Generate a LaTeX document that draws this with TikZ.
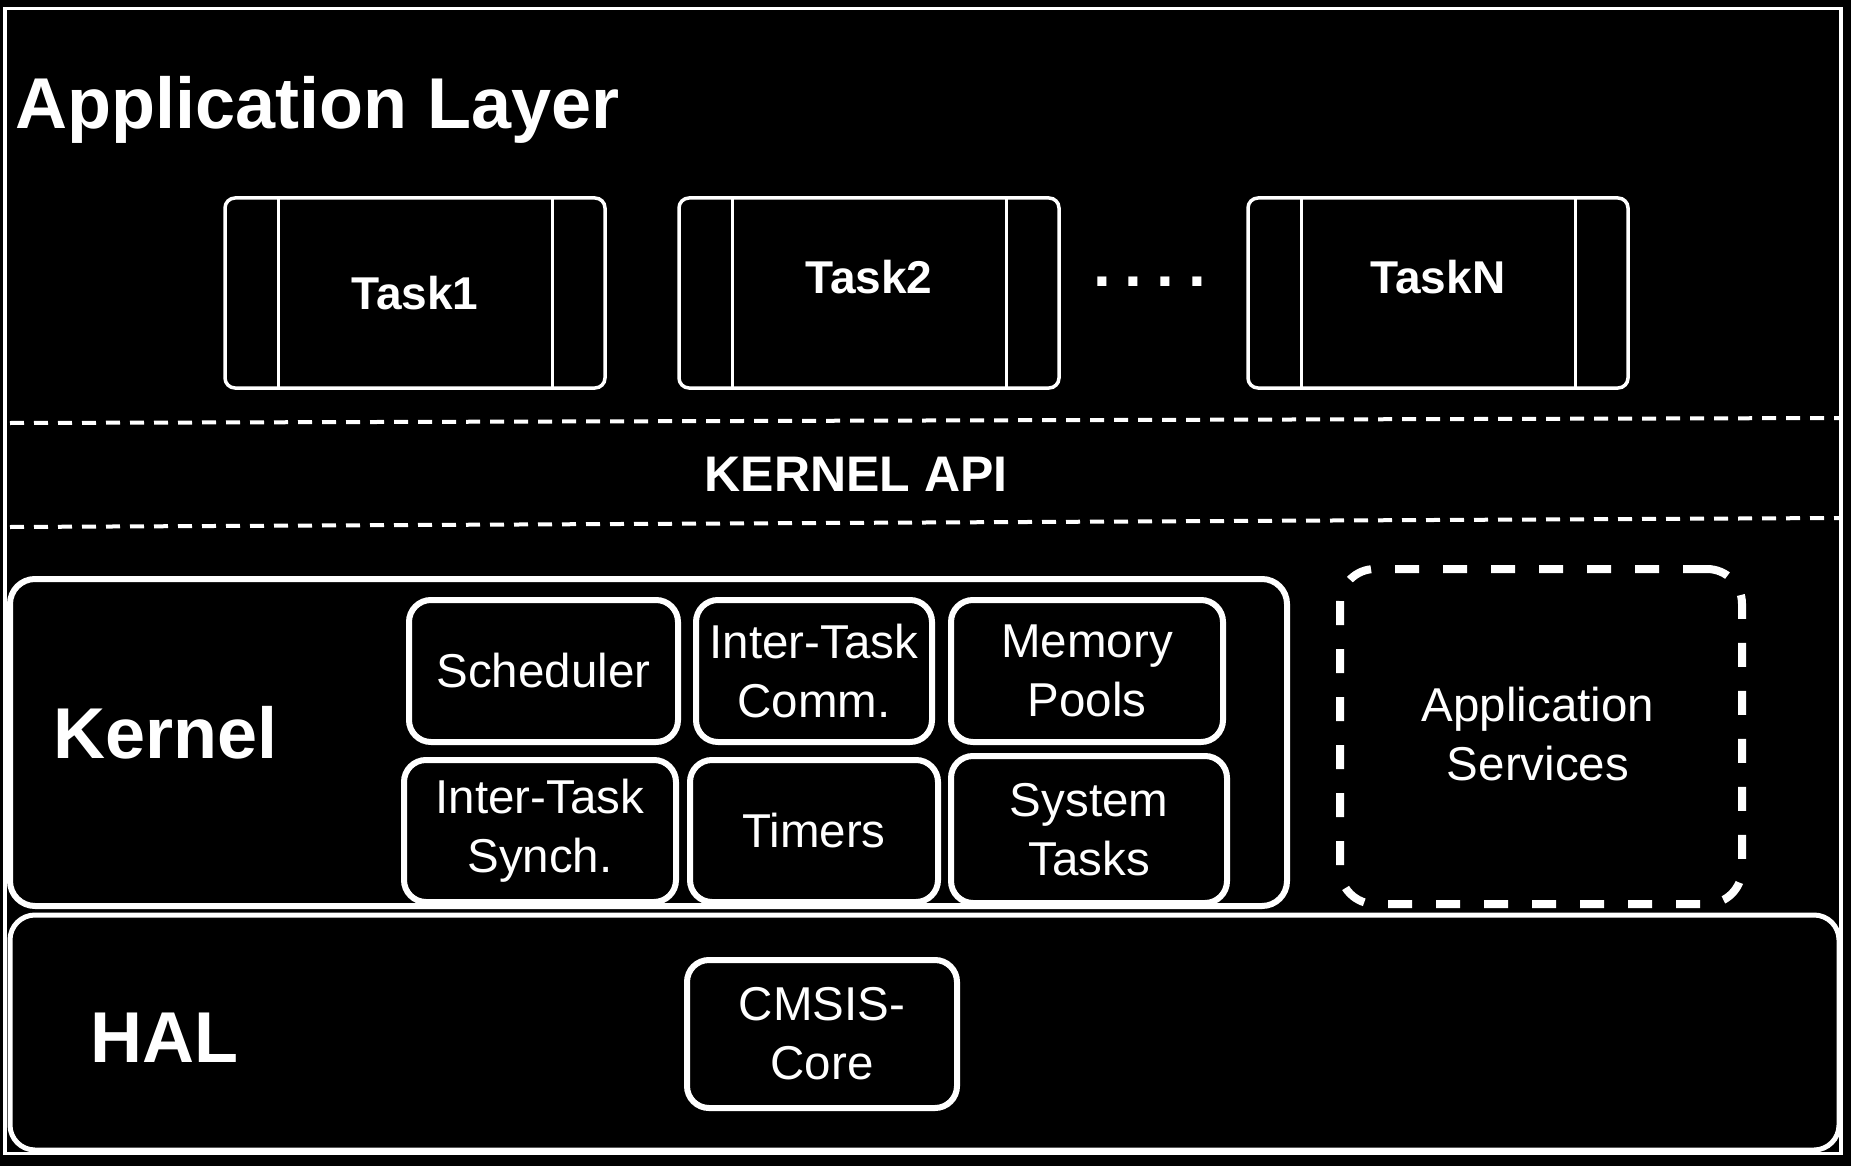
\documentclass[tikz,border=0pt]{standalone}
\usepackage{fontspec}
\setmainfont{Liberation Sans}

\begin{document}
\begin{tikzpicture}[x=1pt,y=-1pt,
	layer/.style={font=\fontsize{72}{86}\selectfont\bfseries, text=white, inner sep=0pt},
	layerbox/.style={draw=white, line width=6pt, rounded corners=25pt, inner sep=0pt, outer sep=0pt},
	taskbox/.style={draw=white, line width=3.5pt, rounded corners=10pt, minimum width=380pt, minimum height=190pt, inner sep=0pt, outer sep=0pt, text=white, font=\fontsize{46}{55}\selectfont\bfseries},
	kbox/.style={draw=white, line width=6pt, rounded corners=22pt, inner sep=0pt, outer sep=0pt, text=white, align=center, font=\fontsize{47.5}{59}\selectfont},
	sepline/.style={draw=white, line width=4pt, dash pattern=on 14pt off 10pt}]
	
	\useasboundingbox (0,0) rectangle (1851,1166);
	\fill[black] (0,0) rectangle (1851,1166);
	\draw[white, line width=3.5pt] (5,8.5) rectangle (1841,1153.5);
	
	% Application layer
	\draw (15,129) node[layer, anchor=base west] (applayer) {Application Layer};
	
	% Tasks
	\draw (415,293) node[taskbox] (task1) {Task1};
	\draw (869,293) node[taskbox, text depth=32pt] (task2) {Task2};
	\draw (1438,293) node[taskbox, text depth=32pt] (taskn) {TaskN};
	
	\draw[white, line width=3pt] ([xshift=53pt]task1.north west) -- ([xshift=53pt]task1.south west);
	\draw[white, line width=3pt] ([xshift=-53pt]task1.north east) -- ([xshift=-53pt]task1.south east);
	\draw[white, line width=3pt] ([xshift=53pt]task2.north west) -- ([xshift=53pt]task2.south west);
	\draw[white, line width=3pt] ([xshift=-53pt]task2.north east) -- ([xshift=-53pt]task2.south east);
	\draw[white, line width=3pt] ([xshift=53pt]taskn.north west) -- ([xshift=53pt]taskn.south west);
	\draw[white, line width=3pt] ([xshift=-53pt]taskn.north east) -- ([xshift=-53pt]taskn.south east);
	
	\draw (1093,286) node[anchor=base west, inner sep=0pt, text=white, font=\fontsize{64}{64}\selectfont\bfseries] (dots)
	{.\hspace{14pt}.\hspace{14pt}.\hspace{14pt}.};
	
	% Kernel API
	\draw[sepline] (10,423) -- (1840,418);
	\draw[sepline] (10,527) -- (1840,518);
	
	\draw (856,474) node[text=white, font=\fontsize{50}{60}\selectfont\bfseries] (api) {KERNEL API};
	
	% Kernel
	\draw (648.5,742.5) node[layerbox, minimum width=1277pt, minimum height=327pt] (kernel) {};
	\draw (53,758) node[layer, anchor=base west] (kernellabel) {Kernel};
	
	\draw (543.5,671) node[kbox, minimum width=269pt, minimum height=142pt] (sched) {Scheduler};
	\draw (814,671) node[kbox, minimum width=236pt, minimum height=142pt] (comm) {Inter-Task\\Comm.};
	\draw (1087,671) node[kbox, minimum width=272pt, minimum height=142pt] (pools) {Memory\\Pools};
	\draw (540,831) node[kbox, minimum width=272pt, minimum height=142pt] (synch) {Inter-Task\\Synch.};
	\draw (814,831) node[kbox, minimum width=248pt, minimum height=142pt] (timers) {Timers};
	\draw (1089,829.5) node[kbox, minimum width=276pt, minimum height=147pt] (systasks) {System\\Tasks};
	
	% Application services
	\draw (1541,736.5) node[kbox, line width=8pt, dash pattern=on 24pt off 24pt, rounded corners=35pt, minimum width=402pt, minimum height=335pt] (services) {};
	\draw (1538,734) node[text=white, align=center, font=\fontsize{47.5}{59}\selectfont] (serviceslabel) {Application\\Services};
	
	% HAL
	\draw (924.5,1032.5) node[layerbox, line width=5pt, minimum width=1829pt, minimum height=235pt] (hal) {};
	\draw (90,1062) node[layer, anchor=base west] (hallabel) {HAL};
	
	\draw (822,1034) node[kbox, minimum width=270pt, minimum height=148pt] (cmsis) {CMSIS-\\Core};
	
\end{tikzpicture}
\end{document}
